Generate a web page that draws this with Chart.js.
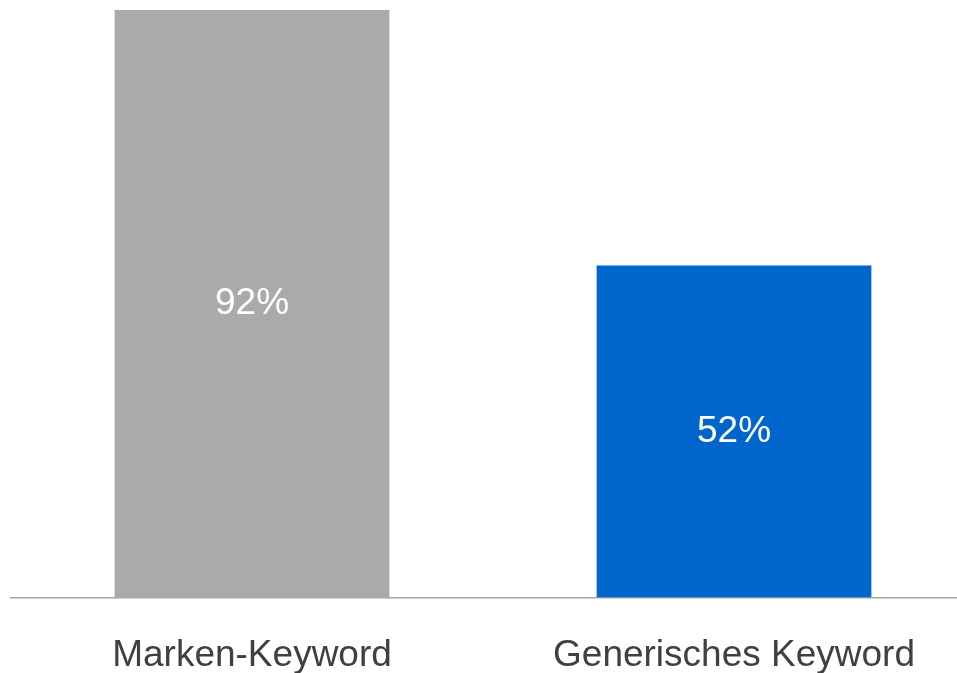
<!DOCTYPE html>
<html>
<head>
<meta charset="utf-8">
<script src="https://cdn.jsdelivr.net/npm/chart.js@4/dist/chart.umd.min.js"></script>
<style>
  html, body { margin: 0; padding: 0; background: #fff; overflow: hidden; }
  #myChart { display: block; }
</style>
</head>
<body>
<canvas id="myChart" width="975" height="721"></canvas>
<script>
const categories = ["Marken-Keyword", "Generisches Keyword"];
const shares = [92, 52];
const barColors = ["#aaaaaa", "#0066cc"];

// prints the value in the middle of every bar
const valueLabels = {
  id: "valueLabels",
  afterDatasetsDraw(chart) {
    const ctx = chart.ctx;
    const meta = chart.getDatasetMeta(0);
    ctx.save();
    ctx.fillStyle = "#ffffff";
    ctx.font = "37px 'Liberation Sans', Arial, sans-serif";
    ctx.textAlign = "center";
    ctx.textBaseline = "middle";
    meta.data.forEach((bar, i) => {
      const y = (bar.y + bar.base) / 2;
      ctx.fillText(shares[i] + "%", bar.x, y);
    });
    ctx.restore();
  }
};

new Chart(document.getElementById("myChart").getContext("2d"), {
  type: "bar",
  data: {
    labels: categories,
    datasets: [{
      data: shares,
      backgroundColor: barColors,
      borderWidth: 0,
      barPercentage: 0.57,
      categoryPercentage: 1
    }]
  },
  options: {
    responsive: false,
    animation: false,
    layout: { padding: { top: 10, left: 11, right: 0, bottom: 7 } },
    plugins: { legend: { display: false }, tooltip: { enabled: false } },
    scales: {
      y: { display: false, min: 0, max: 92 },
      x: {
        grid: { display: false, drawTicks: false },
        border: { display: true, color: "#a6a6a6", width: 1.5 },
        ticks: {
          padding: 36,
          color: "#404040",
          font: { family: "'Liberation Sans', Arial, sans-serif", size: 37 }
        }
      }
    }
  },
  plugins: [valueLabels]
});
</script>
</body>
</html>
